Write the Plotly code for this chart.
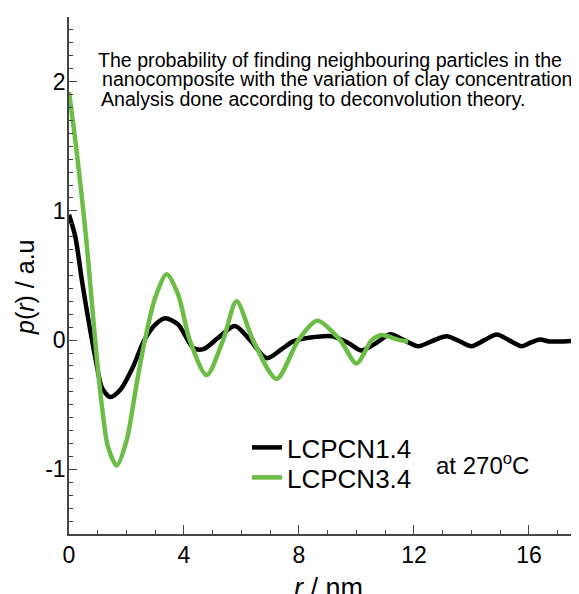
import plotly.graph_objects as go

# LCPCN1.4 (black)
r_black = [0, 0.22, 0.45, 0.68, 0.92, 1.15, 1.44, 1.8, 2.2, 2.62, 3.0, 3.34, 3.8, 4.32, 4.67, 5.2, 5.77, 6.3, 6.88,
           7.4, 7.8, 8.4, 9.15, 9.7, 10.18, 10.7, 11.17, 11.65, 12.15, 12.65, 13.14, 13.6, 14.0, 14.45, 14.88,
           15.3, 15.75, 16.05, 16.38, 16.7, 17.1, 17.6]
p_black = [0.97, 0.80, 0.46, 0.15, -0.14, -0.37, -0.44, -0.38, -0.22, 0.0, 0.12, 0.17, 0.12, -0.06, -0.07, 0.02,
           0.11, 0.0, -0.14, -0.07, -0.01, 0.02, 0.03, -0.02, -0.08, -0.02, 0.045, 0.0, -0.047, -0.005, 0.03,
           -0.01, -0.047, 0.0, 0.044, 0.0, -0.047, -0.02, 0.005, -0.01, -0.01, -0.005]

# LCPCN3.4 (green)
r_green = [0, 0.2, 0.4, 0.6, 0.8, 0.95, 1.15, 1.35, 1.66, 2.0, 2.35, 2.64, 3.0, 3.4, 3.8, 4.2, 4.79, 5.36, 5.83,
           6.4, 7.22, 7.98, 8.64, 9.43, 10.0, 10.53, 10.88, 11.22, 11.5, 11.8]
p_green = [1.92, 1.58, 1.20, 0.78, 0.28, -0.10, -0.52, -0.82, -0.97, -0.78, -0.34, 0.0, 0.33, 0.51, 0.35, 0.0,
           -0.27, 0.0, 0.30, 0.0, -0.30, 0.0, 0.15, 0.0, -0.18, 0.0, 0.04, 0.02, 0.0, -0.01]

x_ticks = [0, 4, 8, 12, 16]
y_ticks = [-1, 0, 1, 2]
y_tick_text = ["-1", "0", "1", "2"]

note_lines = [
    "The probability of finding neighbouring particles in the",
    "nanocomposite with the variation of clay concentration",
    "Analysis done according to deconvolution theory.",
]

FONT = "Liberation Sans, Arial, sans-serif"
GREEN = "#6cbd45"

fig = go.Figure()
fig.add_trace(go.Scatter(x=r_black, y=p_black, mode="lines", name="LCPCN1.4", legend="legend",
                         line=dict(color="black", width=4.5, shape="spline", smoothing=0.8)))
fig.add_trace(go.Scatter(x=r_green, y=p_green, mode="lines", name="LCPCN3.4", legend="legend2",
                         line=dict(color=GREEN, width=4.5, shape="spline", smoothing=0.8)))

# page offset (body margin) = 8px; target plot area in page px: x 69..579, y 17..534
OFF = 8
W, H = 579 - OFF, 594 - OFF
L, T = 69 - OFF, 17 - OFF
R, B = 0, H - (534 - OFF)
pw, ph = W - L - R, H - T - B

def px(xp):  # page px -> paper
    return (xp - OFF - L) / pw

def py(yp):
    return (H - B - (yp - OFF)) / ph

leg_common = dict(xanchor="left", yanchor="top", font=dict(size=26, family=FONT),
                  bgcolor="rgba(0,0,0,0)", itemwidth=30)

fig.update_layout(
    width=W, height=H,
    margin=dict(l=L, r=R, t=T, b=B),
    paper_bgcolor="white", plot_bgcolor="white",
    font=dict(family=FONT, color="black"),
    showlegend=True,
    legend=dict(x=px(247), y=py(424), **leg_common),
    legend2=dict(x=px(247), y=py(454), **leg_common),
    xaxis=dict(range=[0, 17.74], tickvals=x_ticks, ticks="inside", ticklen=9, tickwidth=1,
               tickcolor="#444", showline=True, linecolor="#444", linewidth=1.5,
               showgrid=False, zeroline=False, tickfont=dict(size=23, family=FONT),
               minor=dict(dtick=1, ticks="inside", ticklen=4, tickcolor="#444", showgrid=False)),
    yaxis=dict(range=[-1.5, 2.5], tickvals=y_ticks, ticktext=y_tick_text, ticks="inside", ticklen=8,
               tickwidth=1, tickcolor="#444", showline=True, linecolor="#444", linewidth=1.5,
               showgrid=False, zeroline=False, tickfont=dict(size=23, family=FONT),
               ticklabelstandoff=-3,
               minor=dict(dtick=0.1, ticks="inside", ticklen=4, tickcolor="#444", showgrid=False)),
)

ys = [60, 79, 99]
xs = [96, 100, 99]
for txt, xx, yy in zip(note_lines, xs, ys):
    fig.add_annotation(text=txt, xref="paper", yref="paper", x=px(xx), y=py(yy),
                       xanchor="left", yanchor="middle", showarrow=False,
                       font=dict(size=19.6, family=FONT, color="black"))

fig.add_annotation(text="at 270<sup>o</sup>C", xref="paper", yref="paper", x=px(482), y=py(464),
                   xanchor="center", yanchor="middle", showarrow=False,
                   font=dict(size=24, family=FONT, color="black"))

fig.add_annotation(text="<i>p</i>(<i>r</i>) / a.u", xref="paper", yref="paper", x=px(25), y=py(288),
                   xanchor="center", yanchor="middle", textangle=-90, showarrow=False,
                   font=dict(size=25, family=FONT, color="black"))

fig.add_annotation(text="<i>r</i> / nm", xref="paper", yref="paper", x=px(328), y=py(588),
                   xanchor="center", yanchor="middle", showarrow=False,
                   font=dict(size=27, family=FONT, color="black"))

fig.write_html("out.html")
